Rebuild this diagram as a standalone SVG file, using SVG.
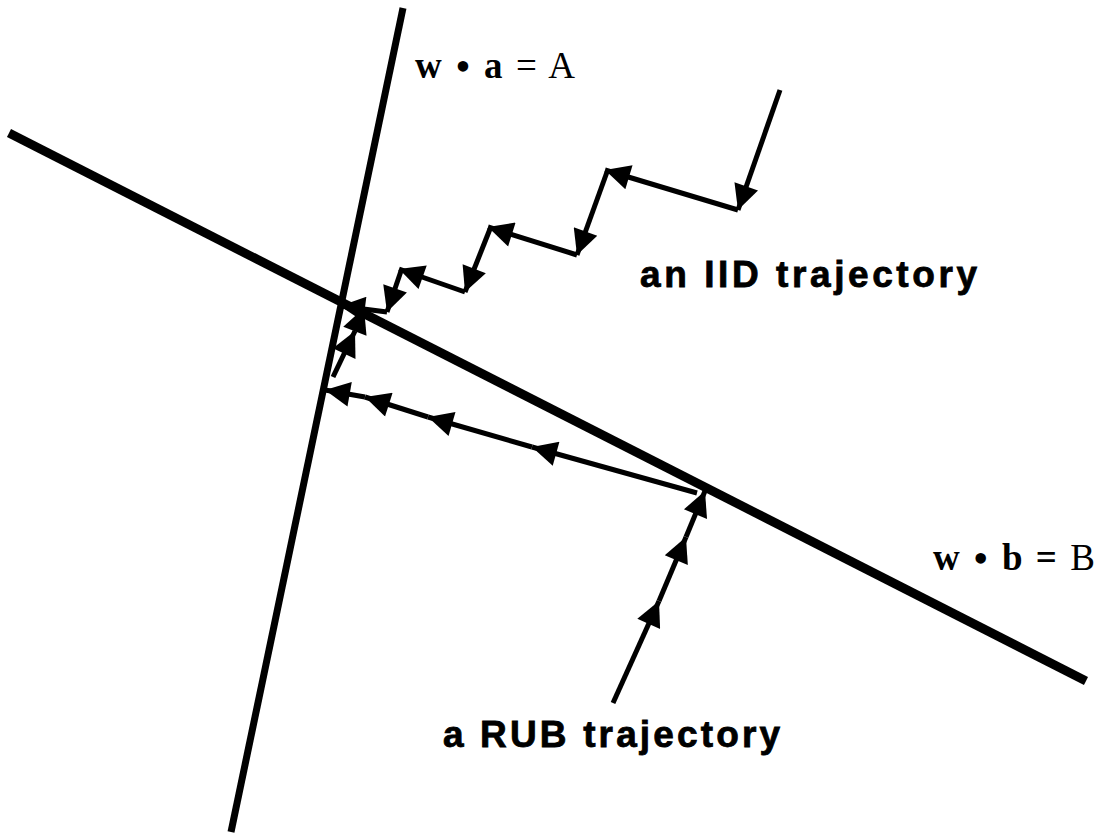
<svg xmlns="http://www.w3.org/2000/svg" width="1100" height="833" viewBox="0 0 1100 833">
<style>
.bnd{stroke:#000;fill:none;stroke-linecap:butt}
.tr{stroke:#000;stroke-width:5;fill:none;marker-end:url(#ah)}
.lbl{font-family:"Liberation Sans",Arial,sans-serif;font-weight:bold;font-size:37px;fill:#000;stroke:#000;stroke-width:0.8}
.eq{font-family:"Liberation Serif","Times New Roman",serif;font-size:37px;fill:#000}
.b{font-weight:bold}
.dot{font-size:44px}
</style>
<defs>
<marker id="ah" viewBox="0 0 10 10" refX="10" refY="5" markerUnits="userSpaceOnUse" markerWidth="28" markerHeight="25" orient="auto">
<path d="M0,0 L10,5 L0,10 z" fill="#000"/>
</marker>
</defs>
<rect width="1100" height="833" fill="#fff"/>
<g id="lineA"><line class="bnd" x1="403" y1="8" x2="231" y2="832" stroke-width="7"/></g>
<g id="lineB"><line class="bnd" x1="9" y1="133" x2="1086" y2="681" stroke-width="9"/></g>
<g id="connectors">
<g id="iid">
<line class="tr" x1="780" y1="90" x2="738" y2="210"/>
<line class="tr" x1="738" y1="210" x2="605" y2="170"/>
<line class="tr" x1="607" y1="172" x2="577" y2="255"/>
<line class="tr" x1="577" y1="255" x2="488" y2="227"/>
<line class="tr" x1="490" y1="229" x2="465" y2="292"/>
<line class="tr" x1="465" y1="292" x2="399" y2="269"/>
<line class="tr" x1="401" y1="271" x2="387" y2="312"/>
<line class="tr" x1="387" y1="312" x2="340" y2="306"/>
</g>
<g id="rub">
<line class="tr" x1="613" y1="703" x2="659" y2="601"/>
<line class="tr" x1="659" y1="601" x2="686" y2="537"/>
<line class="tr" x1="686" y1="537" x2="705" y2="491"/>
<line class="tr" x1="697" y1="493" x2="532" y2="447"/>
<line class="tr" x1="532" y1="447" x2="428" y2="417"/>
<line class="tr" x1="428" y1="417" x2="365" y2="397"/>
<line class="tr" x1="365" y1="397" x2="325" y2="390"/>
<line class="tr" x1="333" y1="377" x2="355" y2="331"/>
<line class="tr" x1="355" y1="331" x2="364" y2="308"/>
</g>
</g>
<g id="labelA"><text class="eq" x="415" y="78" textLength="160" lengthAdjust="spacing"><tspan class="b">w</tspan> <tspan class="dot" dy="3">•</tspan> <tspan class="b" dy="-3">a</tspan> = A</text></g>
<g id="labelB"><text class="eq" x="933" y="570" textLength="162" lengthAdjust="spacing"><tspan class="b">w</tspan> <tspan class="dot" dy="3">•</tspan> <tspan class="b" dy="-3">b</tspan> <tspan class="b">=</tspan> B</text></g>
<g id="labelIID"><text class="lbl" x="640" y="287" textLength="337" lengthAdjust="spacing">an  IID  trajectory</text></g>
<g id="labelRUB"><text class="lbl" x="443" y="747" textLength="337" lengthAdjust="spacing">a  RUB  trajectory</text></g>
</svg>
